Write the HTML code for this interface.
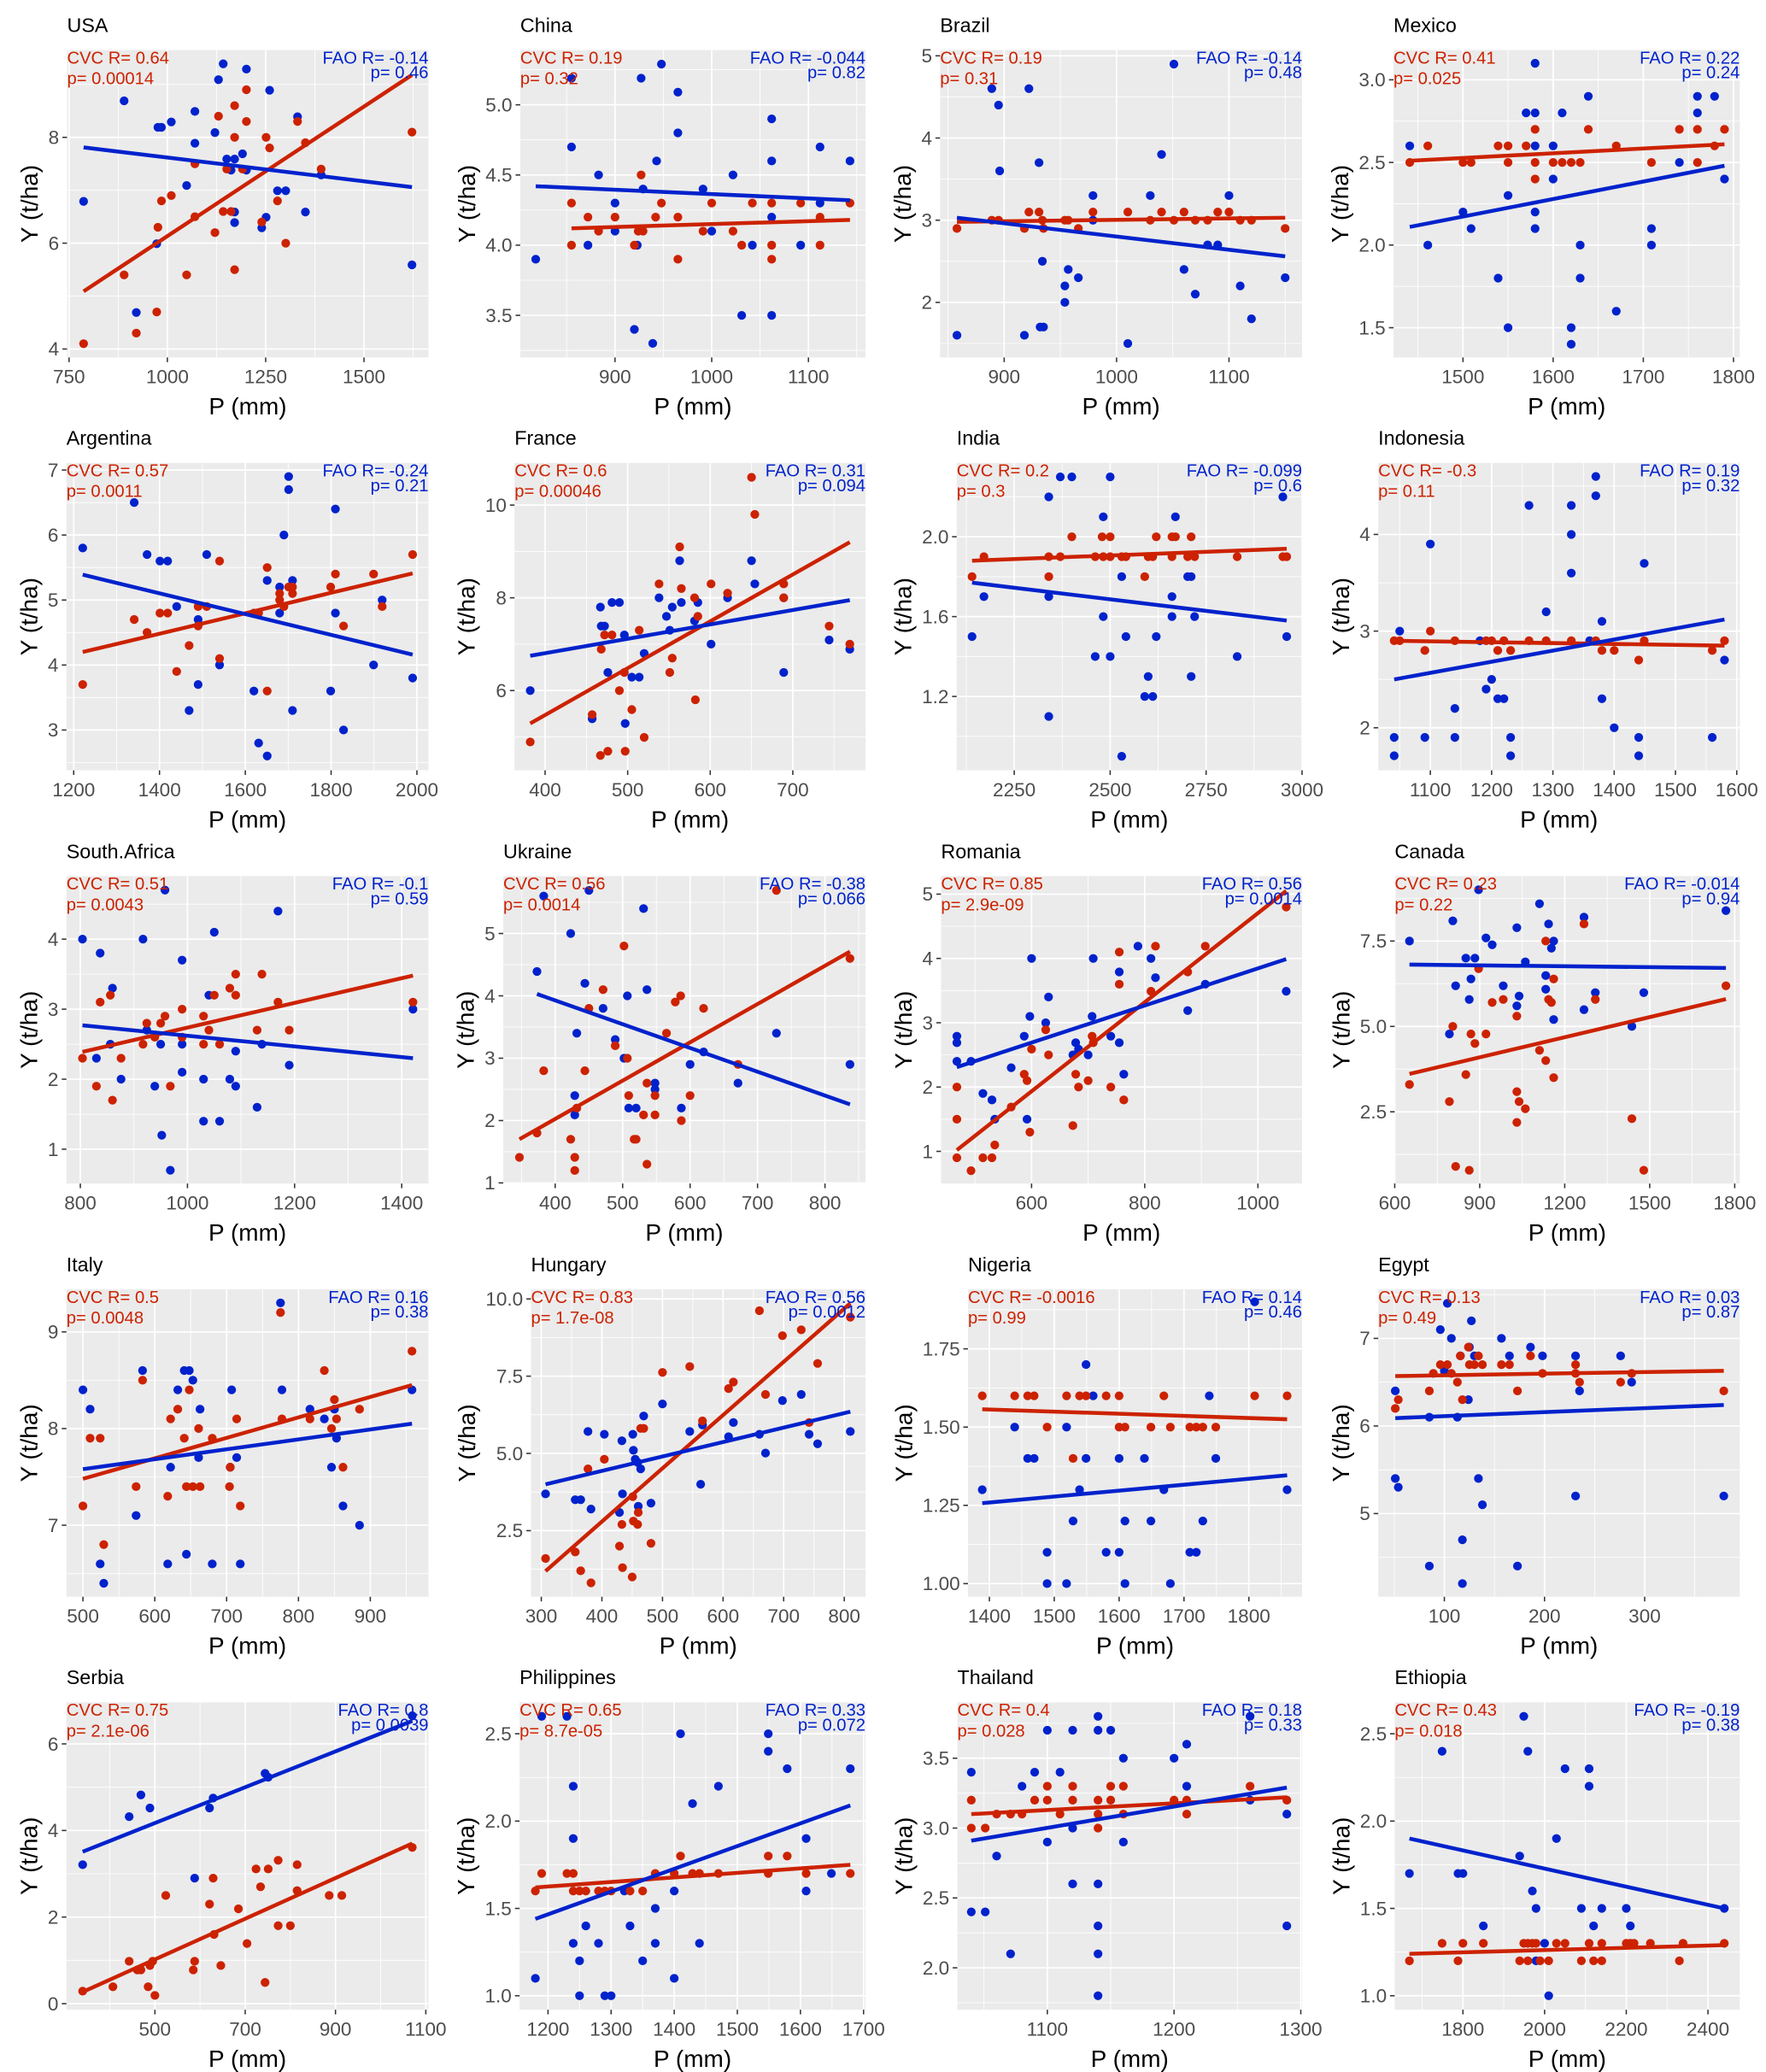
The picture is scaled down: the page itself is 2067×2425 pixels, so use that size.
<!DOCTYPE html>
<html><head><meta charset="utf-8"><style>
html,body{margin:0;padding:0;background:#fff;}
svg{display:block;font-family:"Liberation Sans",Arial,sans-serif;}
</style></head><body>
<svg id="chart" width="2067" height="2425" viewBox="0 0 1330 1560.4" xmlns="http://www.w3.org/2000/svg">
<rect width="1330" height="1560.4" fill="#fff"/>
</svg>
<script>
// ---------- data (P mm, Y t/ha) ----------
const usa_cvc=[[787,4.1],[921,4.3],[890,5.4],[973,4.7],[1049,5.4],[976,6.3],[985,6.8],[1010,6.9],[1070,6.5],[1070,7.5],[1121,6.2],[1142,6.6],[1162,6.6],[1171,5.5],[1151,7.4],[1191,7.4],[1130,8.4],[1171,8.6],[1201,8.9],[1201,8.3],[1171,8.0],[1251,8.0],[1260,7.8],[1240,6.4],[1280,6.8],[1301,6.0],[1331,8.3],[1351,7.9],[1391,7.4],[1622,8.1]];
const usa_fao=[[1142,9.39],[1201,9.29],[1130,9.09],[890,8.69],[1260,8.89],[1070,8.49],[976,8.19],[985,8.19],[1010,8.29],[1121,8.09],[1070,7.89],[1151,7.59],[1171,7.59],[1191,7.69],[1162,7.38],[1201,7.38],[1331,8.39],[1049,7.09],[1280,6.99],[1301,6.99],[1391,7.29],[787,6.79],[973,5.99],[1171,6.59],[1171,6.39],[1240,6.29],[1251,6.49],[1351,6.59],[921,4.69],[1622,5.59]];
const usa_fit=[5.09,9.18,7.81,7.06];
const china_cvc=[[855,4.3],[855,4.0],[872,4.2],[883,4.1],[900,4.2],[920,4.0],[924,4.1],[927,4.5],[929,4.1],[942,4.2],[948,4.3],[965,4.2],[965,3.9],[991,4.1],[1000,4.3],[1022,4.1],[1031,4.0],[1042,4.3],[1062,4.3],[1062,4.0],[1062,3.9],[1092,4.3],[1112,4.2],[1112,4.0],[1143,4.3]];
const china_fao=[[818,3.9],[855,4.7],[855,5.19],[872,4.0],[883,4.5],[900,4.3],[900,4.1],[920,3.4],[923,4.0],[927,5.19],[929,4.4],[939,3.3],[943,4.6],[948,5.29],[965,5.09],[965,4.8],[991,4.4],[1000,4.1],[1022,4.5],[1031,3.5],[1042,4.0],[1062,4.9],[1062,4.6],[1062,4.2],[1062,3.5],[1092,4.0],[1112,4.7],[1112,4.3],[1143,4.6]];
const china_fit=[4.12,4.18,4.42,4.32];
const brazil_cvc=[[858,2.9],[889,3.0],[895,3.0],[918,2.9],[922,3.1],[931,3.1],[934,3.0],[935,2.9],[954,3.0],[957,3.0],[966,2.9],[979,3.1],[1010,3.1],[1030,3.0],[1040,3.1],[1051,3.0],[1060,3.1],[1070,3.0],[1081,3.0],[1090,3.1],[1100,3.1],[1110,3.0],[1120,3.0],[1150,2.9]];
const brazil_fao=[[858,1.6],[889,4.6],[895,4.4],[896,3.6],[922,4.6],[918,1.6],[931,3.7],[932,1.7],[935,1.7],[934,2.5],[957,2.4],[954,2.2],[954,2.0],[966,2.3],[979,3.3],[979,3.0],[1010,1.5],[1030,3.3],[1040,3.8],[1051,4.9],[1060,2.4],[1070,2.1],[1081,2.7],[1090,2.7],[1100,3.3],[1110,2.2],[1120,1.8],[1150,2.3]];
const brazil_fit=[2.98,3.03,3.03,2.56];
const mexico_cvc=[[1441,2.5],[1461,2.6],[1500,2.5],[1509,2.5],[1539,2.6],[1550,2.6],[1550,2.5],[1570,2.6],[1580,2.7],[1580,2.5],[1580,2.4],[1600,2.5],[1610,2.5],[1620,2.5],[1630,2.5],[1639,2.7],[1670,2.6],[1709,2.5],[1740,2.7],[1760,2.7],[1760,2.5],[1779,2.6],[1790,2.7]];
const mexico_fao=[[1441,2.6],[1461,2.0],[1500,2.2],[1509,2.1],[1539,1.8],[1550,2.3],[1550,1.5],[1570,2.8],[1580,2.8],[1580,3.1],[1580,2.6],[1580,2.2],[1580,2.1],[1600,2.6],[1600,2.4],[1610,2.8],[1620,1.5],[1620,1.4],[1630,2.0],[1630,1.8],[1639,2.9],[1670,1.6],[1709,2.1],[1709,2.0],[1740,2.5],[1760,2.9],[1760,2.8],[1779,2.9],[1790,2.4]];
const mexico_fit=[2.51,2.61,2.11,2.48];
const argentina_cvc=[[1221,3.7],[1341,4.7],[1371,4.5],[1401,4.8],[1419,4.8],[1440,3.9],[1469,4.3],[1490,4.9],[1490,4.6],[1510,4.9],[1540,5.6],[1540,4.1],[1620,4.8],[1631,4.8],[1651,5.5],[1651,3.6],[1680,5.1],[1680,5.0],[1690,4.9],[1701,5.2],[1710,5.1],[1710,5.2],[1799,5.2],[1810,5.4],[1829,4.6],[1899,5.4],[1919,4.9],[1990,5.7]];
const argentina_fao=[[1221,5.8],[1341,6.5],[1371,5.7],[1401,5.6],[1419,5.6],[1440,4.9],[1469,3.3],[1490,4.7],[1490,3.7],[1510,5.7],[1540,4.0],[1620,3.6],[1631,2.8],[1651,2.6],[1651,5.3],[1680,5.2],[1680,4.8],[1690,6.0],[1701,6.9],[1701,6.7],[1710,5.3],[1710,3.3],[1799,3.6],[1810,6.4],[1810,4.8],[1829,3.0],[1899,4.0],[1919,5.0],[1990,3.8]];
const argentina_fit=[4.2,5.41,5.39,4.16];
const france_cvc=[[382,4.89],[457,5.48],[467,4.6],[468,6.89],[472,7.2],[476,4.69],[481,7.2],[490,6.0],[496,6.39],[497,4.69],[505,5.59],[514,7.3],[520,4.99],[538,8.3],[551,6.39],[554,6.7],[563,9.1],[565,8.2],[581,8.0],[582,5.8],[585,7.6],[601,8.3],[621,8.1],[650,10.6],[654,9.8],[689,8.3],[689,8.0],[744,7.39],[769,7.0]];
const france_fao=[[382,6.0],[457,5.39],[467,7.8],[468,7.39],[472,7.39],[476,6.39],[481,7.9],[490,7.9],[496,7.2],[497,5.29],[505,6.29],[514,6.29],[520,6.8],[538,8.0],[547,7.6],[551,7.3],[554,7.8],[563,8.8],[565,7.9],[581,7.5],[585,7.9],[601,7.0],[621,8.0],[650,8.8],[654,8.3],[689,8.0],[689,6.39],[744,7.09],[769,6.89]];
const france_fit=[5.29,9.2,6.75,7.95];
const india_cvc=[[2140,1.8],[2171,1.9],[2340,1.9],[2340,1.8],[2370,1.9],[2400,2.0],[2461,1.9],[2479,2.0],[2482,1.9],[2500,2.0],[2500,1.9],[2530,1.9],[2541,1.9],[2590,1.8],[2599,1.9],[2611,1.9],[2620,2.0],[2661,1.9],[2661,2.0],[2670,2.0],[2702,1.9],[2711,2.0],[2720,1.9],[2831,1.9],[2950,1.9],[2960,1.9]];
const india_fao=[[2140,1.5],[2171,1.7],[2340,2.2],[2340,1.7],[2340,1.1],[2370,2.3],[2400,2.3],[2461,1.4],[2482,2.1],[2482,1.6],[2500,2.3],[2500,1.4],[2530,1.8],[2530,0.9],[2541,1.5],[2599,1.3],[2590,1.2],[2611,1.2],[2620,1.5],[2661,1.7],[2661,1.6],[2670,2.1],[2702,1.8],[2711,1.8],[2711,1.3],[2720,1.6],[2831,1.4],[2950,2.2],[2960,1.5]];
const india_fit=[1.88,1.94,1.77,1.58];
const indonesia_cvc=[[1041,2.9],[1050,2.9],[1091,2.8],[1100,3.0],[1140,2.9],[1191,2.9],[1200,2.9],[1210,2.8],[1220,2.9],[1231,2.8],[1261,2.9],[1289,2.9],[1330,2.9],[1370,2.9],[1380,2.8],[1400,2.8],[1440,2.7],[1449,2.9],[1560,2.8],[1580,2.9]];
const indonesia_fao=[[1041,1.9],[1041,1.71],[1050,3.0],[1091,1.9],[1100,3.9],[1140,2.2],[1140,1.9],[1181,2.9],[1191,2.4],[1200,2.5],[1210,2.3],[1220,2.3],[1231,1.9],[1231,1.71],[1261,4.3],[1289,3.2],[1330,4.3],[1330,4.0],[1330,3.6],[1360,2.9],[1370,4.6],[1370,4.4],[1380,3.1],[1380,2.3],[1400,2.0],[1440,1.9],[1440,1.71],[1449,3.7],[1560,1.9],[1580,2.7]];
const indonesia_fit=[2.9,2.85,2.5,3.12];
const safrica_cvc=[[804,2.3],[830,1.9],[837,3.1],[856,3.2],[860,1.7],[876,2.3],[917,2.5],[924,2.8],[939,2.6],[950,2.8],[958,2.9],[968,1.9],[990,3.0],[990,2.6],[1030,2.9],[1030,2.5],[1040,2.7],[1050,3.2],[1060,2.5],[1079,3.3],[1090,3.5],[1090,3.2],[1130,2.7],[1139,3.5],[1169,3.1],[1190,2.7],[1421,3.1]];
const safrica_fao=[[804,4.0],[830,2.3],[837,3.8],[856,2.5],[860,3.3],[876,2.0],[917,4.0],[924,2.7],[939,1.9],[950,2.5],[952,1.2],[958,4.7],[968,0.7],[990,3.7],[990,2.5],[990,2.1],[1030,2.0],[1030,1.4],[1040,3.2],[1050,4.1],[1060,1.4],[1079,2.0],[1090,2.4],[1090,1.9],[1130,1.6],[1139,2.5],[1169,4.4],[1190,2.2],[1421,3.0]];
const safrica_fit=[2.39,3.48,2.77,2.30];
const ukraine_cvc=[[347,1.41],[373,1.8],[383,2.8],[423,1.7],[429,1.41],[429,1.2],[432,2.2],[444,2.8],[450,3.8],[471,4.1],[489,3.2],[502,4.8],[507,3.0],[509,2.4],[517,1.7],[520,1.7],[531,2.09],[536,1.3],[536,2.6],[548,2.4],[548,2.09],[565,3.4],[578,3.9],[586,4.0],[587,2.0],[600,2.4],[620,3.8],[671,2.9],[728,5.69],[837,4.6]];
const ukraine_fao=[[373,4.39],[383,5.6],[423,5.0],[429,2.4],[429,2.09],[432,3.4],[444,4.2],[450,5.69],[471,3.8],[489,3.3],[502,3.0],[507,4.0],[509,2.2],[520,2.2],[531,5.4],[536,4.1],[548,2.6],[548,2.5],[587,2.2],[600,2.9],[620,3.1],[671,2.6],[728,3.4],[837,2.9]];
const ukraine_fit=[1.7,4.71,4.03,2.26];
const romania_cvc=[[468,2.0],[468,1.5],[468,0.9],[493,0.7],[514,0.9],[530,0.9],[535,1.1],[564,1.69],[587,2.2],[592,2.1],[597,1.3],[600,2.59],[625,2.89],[630,2.5],[673,1.4],[678,2.2],[683,2.0],[700,2.1],[707,2.79],[709,2.69],[740,2.0],[755,4.1],[755,3.6],[763,1.8],[811,3.49],[819,4.19],[876,3.79],[907,4.19],[1050,4.8]];
const romania_fao=[[468,2.79],[468,2.69],[468,2.4],[493,2.4],[514,1.9],[530,1.8],[535,1.5],[564,2.3],[587,2.79],[592,1.5],[597,3.1],[600,4.0],[625,3.0],[630,3.4],[673,2.5],[678,2.69],[683,2.59],[700,2.5],[707,3.1],[709,4.0],[740,2.79],[755,3.79],[755,2.69],[763,2.2],[788,4.19],[811,4.0],[819,3.7],[876,3.19],[907,3.6],[1050,3.49]];
const romania_fit=[1.02,5.05,2.31,3.99];
const canada_cvc=[[652,3.3],[793,2.8],[805,5.0],[815,0.9],[851,3.59],[863,0.79],[869,4.78],[883,4.5],[896,6.69],[922,4.78],[944,5.7],[983,5.79],[1031,5.3],[1031,3.09],[1039,2.8],[1031,2.19],[1061,2.59],[1111,4.3],[1133,4.0],[1133,7.5],[1143,5.79],[1153,5.7],[1161,6.39],[1161,3.5],[1268,8.0],[1308,5.79],[1437,2.3],[1479,0.79],[1769,6.19]];
const canada_fao=[[652,7.5],[793,4.78],[805,8.09],[815,6.19],[851,7.0],[863,5.79],[869,6.39],[883,7.0],[896,9.0],[922,7.59],[944,7.39],[983,6.19],[1031,7.89],[1031,5.6],[1039,5.89],[1061,6.89],[1111,8.59],[1133,6.49],[1133,6.09],[1143,8.0],[1153,7.29],[1161,7.5],[1161,5.2],[1268,5.49],[1268,8.2],[1308,5.99],[1437,5.0],[1479,5.99],[1769,8.39]];
const canada_fit=[3.61,5.8,6.81,6.71];
const italy_cvc=[[500,7.2],[510,7.9],[524,7.9],[529,6.8],[574,7.4],[583,8.5],[618,7.3],[622,8.1],[632,8.2],[641,7.9],[644,7.4],[648,8.4],[653,7.4],[661,8.0],[663,7.4],[680,7.9],[705,7.6],[704,7.4],[714,8.1],[719,7.2],[775,9.2],[777,8.1],[816,8.1],[836,8.6],[846,8.0],[850,8.3],[853,8.1],[862,7.6],[885,8.2],[958,8.8]];
const italy_fao=[[500,8.4],[510,8.2],[524,6.6],[529,6.4],[574,7.1],[583,8.6],[618,6.6],[622,7.6],[632,8.4],[644,6.7],[641,8.6],[648,8.6],[653,8.5],[661,7.7],[663,8.2],[680,6.6],[705,7.6],[707,8.4],[714,7.7],[719,6.6],[775,9.3],[777,8.4],[816,8.2],[836,8.1],[846,7.6],[850,8.2],[853,7.9],[862,7.2],[885,7.0],[958,8.4]];
const italy_fit=[7.48,8.45,7.58,8.05];
const hungary_cvc=[[307,1.6],[356,1.81],[365,1.2],[377,4.5],[382,0.81],[404,4.81],[429,2.0],[433,2.7],[434,1.3],[451,3.6],[452,2.81],[459,2.7],[460,3.09],[464,5.81],[469,5.81],[450,1.0],[481,2.09],[500,7.62],[545,7.81],[566,6.05],[609,7.1],[617,7.31],[660,9.62],[670,6.91],[698,8.81],[729,9.0],[742,6.0],[756,7.91],[810,9.41]];
const hungary_fao=[[307,3.69],[356,3.5],[365,3.5],[377,5.71],[382,3.2],[404,5.62],[429,3.09],[433,5.41],[434,3.69],[451,5.62],[452,5.1],[455,4.81],[459,4.71],[460,3.29],[464,4.5],[469,6.21],[481,3.39],[500,6.6],[545,5.71],[563,4.0],[566,5.92],[609,5.54],[617,6.0],[660,5.62],[670,5.01],[698,6.71],[729,6.91],[742,5.62],[756,5.31],[810,5.71]];
const hungary_fit=[1.19,9.86,4.0,6.35];
const nigeria_cvc=[[1389,1.6],[1439,1.6],[1459,1.6],[1469,1.6],[1489,1.5],[1519,1.6],[1529,1.4],[1539,1.6],[1549,1.6],[1580,1.6],[1600,1.6],[1600,1.5],[1609,1.5],[1649,1.5],[1669,1.6],[1679,1.5],[1709,1.5],[1719,1.5],[1729,1.5],[1749,1.5],[1809,1.6],[1859,1.6]];
const nigeria_fao=[[1389,1.3],[1439,1.5],[1459,1.4],[1469,1.4],[1489,1.1],[1489,1.0],[1519,1.5],[1519,1.0],[1529,1.2],[1539,1.3],[1549,1.7],[1549,1.4],[1560,1.6],[1580,1.1],[1600,1.4],[1600,1.1],[1609,1.2],[1609,1.0],[1639,1.4],[1649,1.2],[1669,1.3],[1679,1.0],[1709,1.1],[1719,1.1],[1729,1.2],[1739,1.6],[1749,1.4],[1809,1.9],[1859,1.3]];
const nigeria_fit=[1.557,1.525,1.257,1.346];
const egypt_cvc=[[51,6.2],[54,6.3],[85,6.4],[89,6.6],[96,6.7],[103,6.7],[107,6.6],[113,6.5],[116,6.8],[118,6.3],[124,6.9],[125,6.7],[130,6.7],[134,6.8],[138,6.7],[157,6.7],[165,6.7],[173,6.4],[186,6.8],[198,6.6],[231,6.7],[231,6.6],[235,6.5],[276,6.5],[287,6.6],[379,6.4]];
const egypt_fao=[[51,6.4],[51,5.4],[54,5.3],[85,6.1],[85,4.4],[96,7.1],[100,6.63],[103,7.4],[107,7.0],[113,6.1],[116,6.8],[118,4.7],[118,4.2],[124,6.3],[125,6.9],[127,7.2],[130,6.8],[134,5.4],[138,5.1],[157,7.0],[165,6.8],[173,4.4],[186,6.9],[198,6.8],[231,6.8],[231,5.2],[235,6.4],[276,6.8],[287,6.5],[379,5.2]];
const egypt_fit=[6.57,6.63,6.09,6.24];
const serbia_cvc=[[340,0.29],[407,0.39],[443,0.98],[461,0.78],[469,0.78],[485,0.39],[489,0.88],[495,0.98],[500,0.19],[524,2.5],[585,0.78],[588,0.98],[621,2.3],[629,2.9],[631,1.6],[646,0.88],[685,2.19],[704,1.39],[724,3.11],[734,2.7],[744,0.49],[751,3.11],[773,3.31],[773,1.8],[800,1.8],[815,3.21],[815,2.61],[886,2.5],[914,2.5],[1070,3.61]];
const serbia_fao=[[340,3.21],[443,4.32],[469,4.82],[489,4.52],[588,2.9],[621,4.52],[629,4.75],[744,5.32],[751,5.23],[1070,6.65]];
const serbia_fit=[0.27,3.7,3.51,6.53];
const philippines_cvc=[[1180,1.6],[1190,1.7],[1230,1.7],[1240,1.7],[1240,1.6],[1250,1.6],[1260,1.6],[1280,1.6],[1290,1.6],[1300,1.6],[1330,1.6],[1350,1.6],[1370,1.7],[1400,1.7],[1410,1.8],[1429,1.7],[1440,1.7],[1470,1.7],[1549,1.8],[1549,1.7],[1579,1.8],[1609,1.7],[1679,1.7]];
const philippines_fao=[[1180,1.1],[1190,2.6],[1230,2.6],[1240,2.2],[1240,1.9],[1240,1.3],[1250,1.2],[1250,1.0],[1260,1.4],[1280,1.3],[1290,1.0],[1300,1.0],[1321,1.6],[1330,1.4],[1350,1.2],[1370,1.5],[1370,1.3],[1400,1.6],[1400,1.1],[1410,2.5],[1429,2.1],[1440,1.3],[1470,2.2],[1549,2.5],[1549,2.4],[1579,2.3],[1609,1.9],[1609,1.6],[1649,1.7],[1679,2.3]];
const philippines_fit=[1.62,1.75,1.44,2.09];
const thailand_cvc=[[1040,3.2],[1040,3.0],[1051,3.0],[1060,3.1],[1071,3.1],[1080,3.1],[1090,3.2],[1100,3.3],[1100,3.2],[1110,3.1],[1120,3.3],[1120,3.2],[1140,3.2],[1140,3.1],[1140,3.0],[1150,3.3],[1150,3.2],[1160,3.3],[1160,3.1],[1200,3.2],[1210,3.2],[1210,3.1],[1260,3.3],[1289,3.2]];
const thailand_fao=[[1040,3.4],[1040,2.4],[1051,2.4],[1060,2.8],[1071,2.1],[1080,3.3],[1090,3.4],[1100,3.7],[1100,2.9],[1110,3.4],[1120,3.7],[1120,3.0],[1120,2.6],[1140,3.8],[1140,3.7],[1140,2.6],[1140,2.3],[1140,2.1],[1140,1.8],[1150,3.7],[1160,3.5],[1160,2.9],[1200,3.5],[1210,3.6],[1210,3.3],[1260,3.8],[1260,3.2],[1289,3.1],[1289,2.3]];
const thailand_fit=[3.1,3.22,2.91,3.29];
const ethiopia_cvc=[[1669,1.2],[1749,1.3],[1788,1.2],[1800,1.3],[1850,1.3],[1939,1.2],[1949,1.3],[1959,1.2],[1959,1.3],[1970,1.3],[1979,1.3],[1989,1.2],[2010,1.2],[2029,1.3],[2050,1.3],[2090,1.2],[2109,1.3],[2120,1.2],[2140,1.3],[2140,1.2],[2200,1.3],[2210,1.3],[2219,1.3],[2259,1.3],[2330,1.2],[2339,1.3],[2440,1.3]];
const ethiopia_fao=[[1669,1.7],[1749,2.4],[1788,1.7],[1800,1.7],[1850,1.4],[1939,1.8],[1949,2.6],[1959,2.4],[1970,1.6],[1979,1.5],[1979,1.2],[2000,1.3],[2010,1.0],[2029,1.9],[2050,2.3],[2090,1.5],[2109,2.3],[2109,2.2],[2120,1.4],[2140,1.5],[2200,1.5],[2210,1.4],[2440,1.5]];
const ethiopia_fit=[1.24,1.29,1.9,1.5];

// ---------- stats text ----------
const countries=["USA","China","Brazil","Mexico","Argentina","France","India","Indonesia","South.Africa","Ukraine","Romania","Canada","Italy","Hungary","Nigeria","Egypt","Serbia","Philippines","Thailand","Ethiopia"];
const cvcR=["0.64","0.19","0.19","0.41","0.57","0.6","0.2","-0.3","0.51","0.56","0.85","0.23","0.5","0.83","-0.0016","0.13","0.75","0.65","0.4","0.43"];
const cvcP=["0.00014","0.32","0.31","0.025","0.0011","0.00046","0.3","0.11","0.0043","0.0014","2.9e-09","0.22","0.0048","1.7e-08","0.99","0.49","2.1e-06","8.7e-05","0.028","0.018"];
const faoR=["-0.14","-0.044","-0.14","0.22","-0.24","0.31","-0.099","0.19","-0.1","-0.38","0.56","-0.014","0.16","0.56","0.14","0.03","0.8","0.33","0.18","-0.19"];
const faoP=["0.46","0.82","0.48","0.24","0.21","0.094","0.6","0.32","0.59","0.066","0.0014","0.94","0.38","0.0012","0.46","0.87","0.0039","0.072","0.33","0.38"];

// ---------- axis ticks ----------
const xTicks=[[750,1000,1250,1500],[900,1000,1100],[900,1000,1100],[1500,1600,1700,1800],
 [1200,1400,1600,1800,2000],[400,500,600,700],[2250,2500,2750,3000],[1100,1200,1300,1400,1500,1600],
 [800,1000,1200,1400],[400,500,600,700,800],[600,800,1000],[600,900,1200,1500,1800],
 [500,600,700,800,900],[300,400,500,600,700,800],[1400,1500,1600,1700,1800],[100,200,300],
 [500,700,900,1100],[1200,1300,1400,1500,1600,1700],[1100,1200,1300],[1800,2000,2200,2400]];
const yTicks=[["4","6","8"],["3.5","4.0","4.5","5.0"],["2","3","4","5"],["1.5","2.0","2.5","3.0"],
 ["3","4","5","6","7"],["6","8","10"],["1.2","1.6","2.0"],["2","3","4"],
 ["1","2","3","4"],["1","2","3","4","5"],["1","2","3","4","5"],["2.5","5.0","7.5"],
 ["7","8","9"],["2.5","5.0","7.5","10.0"],["1.00","1.25","1.50","1.75"],["5","6","7"],
 ["0","2","4","6"],["1.0","1.5","2.0","2.5"],["2.0","2.5","3.0","3.5"],["1.0","1.5","2.0","2.5"]];
const xDom=[[745,1664],[802,1159],[843,1165],[1423,1807],[1183,2027],[363,788],[2100,3000],[1015,1605],[774,1450],[323,860],[440,1078],[600,1818],[477,981],[283,835],[1367,1882],[34,395],[304,1106],[1155,1703],[1029,1301],[1633,2478]];
const yDom=[[3.84,9.65],[3.2,5.39],[1.33,5.07],[1.32,3.18],[2.38,7.11],[4.28,10.91],[0.83,2.37],[1.56,4.74],[0.51,4.9],[0.99,5.92],[0.5,5.28],[0.4,9.4],[6.26,9.44],[0.36,10.31],[0.958,1.94],[4.05,7.56],[-0.14,6.96],[0.92,2.68],[1.7,3.9],[0.92,2.68]];
const cvcSeries=[usa_cvc,china_cvc,brazil_cvc,mexico_cvc,argentina_cvc,france_cvc,india_cvc,indonesia_cvc,safrica_cvc,ukraine_cvc,romania_cvc,canada_cvc,italy_cvc,hungary_cvc,nigeria_cvc,egypt_cvc,serbia_cvc,philippines_cvc,thailand_cvc,ethiopia_cvc];
const faoSeries=[usa_fao,china_fao,brazil_fao,mexico_fao,argentina_fao,france_fao,india_fao,indonesia_fao,safrica_fao,ukraine_fao,romania_fao,canada_fao,italy_fao,hungary_fao,nigeria_fao,egypt_fao,serbia_fao,philippines_fao,thailand_fao,ethiopia_fao];
const fits=[usa_fit,china_fit,brazil_fit,mexico_fit,argentina_fit,france_fit,india_fit,indonesia_fit,safrica_fit,ukraine_fit,romania_fit,canada_fit,italy_fit,hungary_fit,nigeria_fit,egypt_fit,serbia_fit,philippines_fit,thailand_fit,ethiopia_fit];

// ---------- layout ----------
const rowTop=[37.7,348.6,659.8,971,1282];
const PH=231.5;
const panelLeft=[50.5,391.8,708,1049.5, 50,387.5,720.5,1038, 50,379,708.7,1050.4, 50,399.9,729,1038, 50,391.3,721,1050.4];
const colRight=[322.7,651.8,980.6,1310.3];
const RED="#CC2200", BLUE="#0022CC";
const NS="http://www.w3.org/2000/svg";
const svg=document.getElementById('chart');
function mk(tag,attrs,parent){const e=document.createElementNS(NS,tag);for(const k in attrs)e.setAttribute(k,attrs[k]);(parent||svg).appendChild(e);return e;}

countries.forEach((name,i)=>{
  const r=Math.floor(i/4), c=i%4;
  const L=panelLeft[i], R=colRight[c], T=rowTop[r], B=T+PH;
  const xd=xDom[i], yd=yDom[i];
  const sx=v=>L+(v-xd[0])/(xd[1]-xd[0])*(R-L);
  const sy=v=>B-(v-yd[0])/(yd[1]-yd[0])*PH;
  const slug=name.toLowerCase().replace('.','-');
  const g=mk('g',{});
  
  
  const bg=mk('rect',{x:L,y:T,width:R-L,height:PH,fill:'#EBEBEB'},g);
  
  
  const yv=yTicks[i].map(Number), xv=xTicks[i];
  // minor grid
  function minors(v,d){const out=[];const st=v[1]-v[0];const cand=[v[0]-st/2];for(let k=0;k<v.length-1;k++)cand.push((v[k]+v[k+1])/2);cand.push(v[v.length-1]+st/2);cand.forEach(m=>{if(m>d[0]&&m<d[1])out.push(m);});return out;}
  minors(xv,xd).forEach(m=>{const l=mk('line',{x1:sx(m),x2:sx(m),y1:T,y2:B,stroke:'#fff','stroke-width':0.55},g);});
  minors(yv,yd).forEach(m=>{const l=mk('line',{x1:L,x2:R,y1:sy(m),y2:sy(m),stroke:'#fff','stroke-width':0.55},g);});
  xv.forEach(v=>{const l=mk('line',{x1:sx(v),x2:sx(v),y1:T,y2:B,stroke:'#fff','stroke-width':1.1},g);});
  yv.forEach(v=>{const l=mk('line',{x1:L,x2:R,y1:sy(v),y2:sy(v),stroke:'#fff','stroke-width':1.1},g);});
  // points
  faoSeries[i].forEach(p=>{const d=mk('circle',{cx:sx(p[0]),cy:sy(p[1]),r:3.3,fill:BLUE},g);});
  cvcSeries[i].forEach(p=>{const d=mk('circle',{cx:sx(p[0]),cy:sy(p[1]),r:3.3,fill:RED},g);});
  // fit lines
  const f=fits[i];
  const cx=cvcSeries[i].map(p=>p[0]), fx=faoSeries[i].map(p=>p[0]);
  const rl=mk('line',{x1:sx(Math.min(...cx)),y1:sy(f[0]),x2:sx(Math.max(...cx)),y2:sy(f[1]),stroke:RED,'stroke-width':2.9},g);
  
  const bl=mk('line',{x1:sx(Math.min(...fx)),y1:sy(f[2]),x2:sx(Math.max(...fx)),y2:sy(f[3]),stroke:BLUE,'stroke-width':2.9},g);
  
  // annotations
  const t1=mk('text',{x:L,y:T+10.2,fill:RED,'font-size':13},g);t1.textContent='CVC R= '+cvcR[i];
  
  const t2=mk('text',{x:L,y:T+25.7,fill:RED,'font-size':13},g);t2.textContent='p= '+cvcP[i];
  
  const t3=mk('text',{x:R,y:T+10.2,fill:BLUE,'font-size':13,'text-anchor':'end'},g);t3.textContent='FAO R= '+faoR[i];
  
  const t4=mk('text',{x:R,y:T+21.3,fill:BLUE,'font-size':13,'text-anchor':'end'},g);t4.textContent='p= '+faoP[i];
  
  // title
  const tt=mk('text',{x:L,y:T-13.6,fill:'#000','font-size':15},g);tt.textContent=name;
  
  // x ticks
  xv.forEach(v=>{
    const tk=mk('line',{x1:sx(v),x2:sx(v),y1:B,y2:B+3.5,stroke:'#333','stroke-width':1},g);
    
    const lb=mk('text',{x:sx(v),y:B+19.5,fill:'#4D4D4D','font-size':14.5,'text-anchor':'middle'},g);lb.textContent=String(v);
    
  });
  let maxW=0;
  yTicks[i].forEach((s,k)=>{
    const v=yv[k];
    const tk=mk('line',{x1:L-3.5,x2:L,y1:sy(v),y2:sy(v),stroke:'#333','stroke-width':1},g);
    
    const lb=mk('text',{x:L-6,y:sy(v)+5,fill:'#4D4D4D','font-size':14.5,'text-anchor':'end'},g);lb.textContent=s;
    
    try{maxW=Math.max(maxW,lb.getComputedTextLength());}catch(e){maxW=Math.max(maxW,s.length*8);}
  });
  const xt=mk('text',{x:(L+R)/2,y:B+43,fill:'#000','font-size':18,'text-anchor':'middle'},g);xt.textContent='P (mm)';
  
  const ax=L-6-maxW-8;
  const yt=mk('text',{x:ax,y:T+PH/2,fill:'#000','font-size':18,'text-anchor':'middle',transform:`rotate(-90 ${ax} ${T+PH/2})`},g);yt.textContent='Y (t/ha)';
  
});
</script>
</body></html>
